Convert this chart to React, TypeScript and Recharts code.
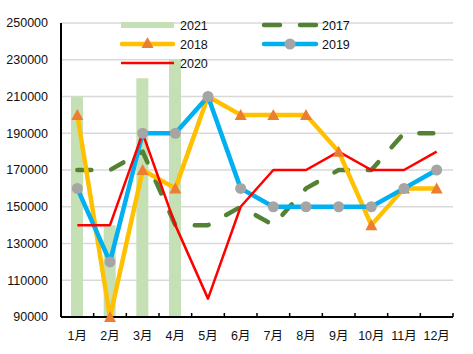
import { ComposedChart, Bar, Line, XAxis, YAxis, CartesianGrid, Legend } from 'recharts'

const months = ['1月', '2月', '3月', '4月', '5月', '6月', '7月', '8月', '9月', '10月', '11月', '12月']
const y2021 = [210000, 140000, 220000, 230000, null, null, null, null, null, null, null, null]
const y2017 = [170000, 170000, 180000, 140000, 140000, 150000, 140000, 160000, 170000, 170000, 190000, 190000]
const y2018 = [200000, 90000, 170000, 160000, 210000, 200000, 200000, 200000, 180000, 140000, 160000, 160000]
const y2019 = [160000, 120000, 190000, 190000, 210000, 160000, 150000, 150000, 150000, 150000, 160000, 170000]
const y2020 = [140000, 140000, 190000, 140000, 100000, 150000, 170000, 170000, 180000, 170000, 170000, 180000]
const yTicks = [90000, 110000, 130000, 150000, 170000, 190000, 210000, 230000, 250000]

const data = months.map((m, i) => ({
  month: m,
  '2021': y2021[i],
  '2017': y2017[i],
  '2018': y2018[i],
  '2019': y2019[i],
  '2020': y2020[i],
}))

const FONT = '"Liberation Sans", "Noto Sans CJK SC", sans-serif'
const FS = 12.5
const GREEN_BAR = '#c5e0b4'
const GREEN_DASH = '#548235'
const GOLD = '#ffc000'
const ORANGE = '#ed7d31'
const BLUE = '#00b0f0'
const GRAY = '#a5a5a5'
const RED = '#ff0000'

const W = 473
const H = 354
const PLOT_L = 61
const PLOT_R = 20
const HALF_BAND = (W - PLOT_L - PLOT_R) / months.length / 2

function Triangle(props: any) {
  const { cx, cy, index } = props
  if (cx == null || cy == null) return <g key={index} />
  return (
    <path
      key={index}
      d={`M${cx},${cy - 6} L${cx + 6},${cy + 5} L${cx - 6},${cy + 5} Z`}
      fill={ORANGE}
    />
  )
}

function Dot(props: any) {
  const { cx, cy, index } = props
  if (cx == null || cy == null) return <g key={index} />
  return <circle key={index} cx={cx} cy={cy} r={5.5} fill={GRAY} />
}

function MonthTick(props: any) {
  const { x, y, payload } = props
  return (
    <g>
      <line x1={x + HALF_BAND} x2={x + HALF_BAND} y1={y} y2={y - 4} stroke="#000" strokeWidth={1.5} />
      <text x={x} y={y + 23} textAnchor="middle" fontSize={FS} fontFamily={FONT} fill="#111">
        {payload.value}
      </text>
    </g>
  )
}

function LegendBox() {
  const t = { fontSize: FS, fontFamily: FONT, fill: '#111' }
  return (
    <svg width={W} height={80} style={{ position: 'absolute', left: 0, top: 0, overflow: 'visible' }}>
      <rect x={121} y={22} width={53} height={6} fill={GREEN_BAR} />
      <text x={180} y={30} {...t}>2021</text>

      <line x1={264} x2={280} y1={25} y2={25} stroke={GREEN_DASH} strokeWidth={4.5} strokeLinecap="round" />
      <line x1={300} x2={316} y1={25} y2={25} stroke={GREEN_DASH} strokeWidth={4.5} strokeLinecap="round" />
      <text x={322} y={30} {...t}>2017</text>

      <line x1={122} x2={173} y1={44} y2={44} stroke={GOLD} strokeWidth={4.5} strokeLinecap="round" />
      <Triangle cx={147.5} cy={43} index={0} />
      <text x={180} y={49} {...t}>2018</text>

      <line x1={264} x2={316} y1={44} y2={44} stroke={BLUE} strokeWidth={4.5} strokeLinecap="round" />
      <Dot cx={290} cy={44} index={0} />
      <text x={322} y={49} {...t}>2019</text>

      <line x1={121} x2={174} y1={63} y2={63} stroke={RED} strokeWidth={2.5} />
      <text x={180} y={68} {...t}>2020</text>
    </svg>
  )
}

export default function App() {
  return (
    <div style={{ position: 'absolute', left: 0, top: 0, width: W, height: H, background: '#fff' }}>
      <ComposedChart
        width={W}
        height={H}
        data={data}
        margin={{ top: 23, right: PLOT_R, bottom: 7, left: 0 }}
        barCategoryGap="0%"
      >
        <CartesianGrid vertical={false} stroke="#d9d9d9" strokeWidth={1.5} />
        <XAxis
          dataKey="month"
          height={30}
          axisLine={{ stroke: '#000', strokeWidth: 2 }}
          tickLine={false}
          tickSize={0}
          tickMargin={0}
          interval={0}
          tick={<MonthTick />}
        />
        <YAxis
          width={PLOT_L}
          domain={[90000, 250000]}
          ticks={yTicks}
          interval={0}
          axisLine={{ stroke: '#000', strokeWidth: 2 }}
          tickLine={false}
          tickSize={6}
          tickMargin={7}
          tick={{ fontSize: FS, fontFamily: FONT, fill: '#111' }}
        />
        <Legend content={<LegendBox />} wrapperStyle={{ position: 'absolute', left: 0, top: 0, width: W, height: 0 }} />
        <Bar dataKey="2021" fill={GREEN_BAR} barSize={12} isAnimationActive={false} />
        <Line
          dataKey="2017"
          stroke={GREEN_DASH}
          strokeWidth={4.5}
          strokeDasharray="14 20"
          strokeLinecap="round"
          strokeLinejoin="round"
          dot={false}
          isAnimationActive={false}
        />
        <Line
          dataKey="2018"
          stroke={GOLD}
          strokeWidth={4.5}
          strokeLinejoin="round"
          dot={Triangle}
          activeDot={false}
          isAnimationActive={false}
        />
        <Line
          dataKey="2019"
          stroke={BLUE}
          strokeWidth={4.5}
          strokeLinejoin="round"
          dot={Dot}
          activeDot={false}
          isAnimationActive={false}
        />
        <Line
          dataKey="2020"
          stroke={RED}
          strokeWidth={2.5}
          strokeLinejoin="round"
          dot={false}
          isAnimationActive={false}
        />
      </ComposedChart>
    </div>
  )
}
